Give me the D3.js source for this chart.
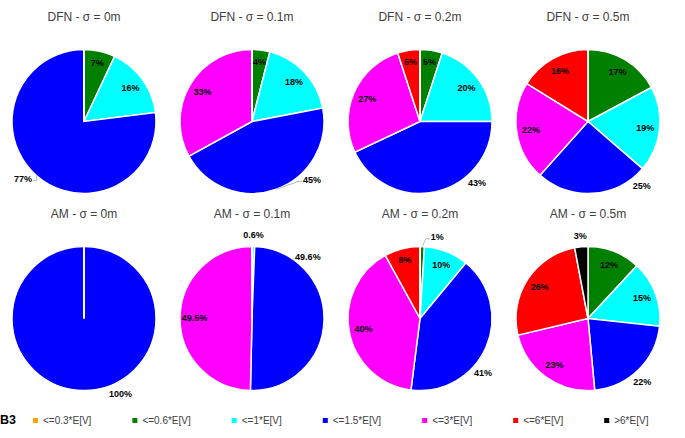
<!DOCTYPE html>
<html>
<head>
<meta charset="utf-8">
<script src="https://cdn.jsdelivr.net/npm/d3@7"></script>
<style>
  body { margin: 0; background: #fff; }
  text { font-family: "Liberation Sans", Arial, sans-serif; }
</style>
</head>
<body>
<div id="chart"></div>
<script>
const categories = ["<=0.3*E[V]", "<=0.6*E[V]", "<=1*E[V]", "<=1.5*E[V]", "<=3*E[V]", "<=6*E[V]", ">6*E[V]"];
const colors = ["#ffa500", "#008000", "#00ffff", "#0000ff", "#ff00ff", "#ff0000", "#000000"];
const methods = ["DFN", "AM"];
const sigmas = ["0m", "0.1m", "0.2m", "0.5m"];

// share of blocks per class (%), one row per sigma
const dfnShares = [
    [0, 7, 16, 77, 0, 0, 0],
    [0, 4, 18, 45, 33, 0, 0],
    [0, 5, 20, 43, 27, 5, 0],
    [0, 17, 19, 25, 22, 16, 0]
];
const amShares = [
    [0, 0, 0, 100, 0, 0, 0],
    [0, 0, 0.6, 49.6, 49.5, 0, 0],
    [0, 1, 10, 41, 40, 8, 0],
    [0, 12, 15, 22, 23, 26, 3]
];

// where Excel's "best fit" put the outside labels (degrees clockwise from 12 o'clock)
const outsideAngle = {
    "DFN 0m": { 3: 227 }, "DFN 0.1m": { 3: 134 }, "DFN 0.2m": { 3: 137 }, "DFN 0.5m": { 3: 140 },
    "AM 0m": { 3: 154 }, "AM 0.1m": { 3: 42 }, "AM 0.2m": { 1: 12, 3: 131 }, "AM 0.5m": { 3: 139.5 }
};
const withLeader = ["DFN 0m|3", "DFN 0.1m|3", "AM 0.2m|1"];

const width = 685, height = 438, radius = 72;

const svg = d3.select("#chart").append("svg").attr("width", width).attr("height", height);

const x = d3.scaleBand().domain(sigmas).range([0, 672]);
const y = d3.scalePoint().domain(methods).range([121.5, 318.5]);

const pie = d3.pie().sort(null).value(d => d.v);
const arc = d3.arc().innerRadius(0).outerRadius(radius);

const rows = { "DFN": dfnShares, "AM": amShares };

methods.forEach(m => {
    sigmas.forEach((s, si) => {
        const key = m + " " + s;
        const cx = x(s) + x.bandwidth() / 2, cy = y(m);
        const g = svg.append("g").attr("transform", `translate(${cx},${cy})`);
        const values = rows[m][si].map((v, i) => ({ v: v, i: i }));
        const arcs = pie(values);

        g.append("text").attr("x", 0).attr("y", -101).attr("text-anchor", "middle")
            .style("font-size", "12px").style("fill", "#404040")
            .text(m + " - σ = " + s);

        g.selectAll("path.slice").data(arcs).enter().append("path")
            .attr("class", "slice")
            .attr("d", arc)
            .style("fill", d => colors[d.data.i])
            .style("stroke", "#fff").style("stroke-width", 1.5);

        const over = outsideAngle[key] || {};
        arcs.filter(d => d.data.v > 0).forEach(d => {
            const mid = (d.startAngle + d.endAngle) / 2;
            const outside = d.data.i === 3 || d.data.v < 4;
            let ang = mid, dist;
            if (outside) {
                ang = over[d.data.i] !== undefined ? over[d.data.i] * Math.PI / 180 : mid;
                dist = radius * 1.16;
            } else {
                dist = radius * (d.data.v < 9 ? 0.84 : 0.8);
            }
            const lx = dist * Math.sin(ang), ly = -dist * Math.cos(ang);
            const t = g.append("text").attr("x", lx).attr("y", ly).attr("dy", "0.35em")
                .attr("text-anchor", "middle")
                .style("font-size", "9px").style("font-weight", "bold").style("fill", "#000")
                .text(d.data.v + "%");

            if (withLeader.includes(key + "|" + d.data.i)) {
                const half = t.node().getComputedTextLength() / 2;
                const ax = radius * Math.sin(mid), ay = -radius * Math.cos(mid);
                const side = ax < lx ? -1 : 1;
                const ex = lx + side * (half + 1), ey = ly + 2;
                g.append("polyline")
                    .attr("points", [[ax, ay], [ex + side * 4, ey], [ex, ey]].map(p => p.join(",")).join(" "))
                    .style("fill", "none").style("stroke", "#a6a6a6").style("stroke-width", 0.8);
            }
        });
    });
});

// legend
const legend = svg.append("g").attr("transform", "translate(0,424)");
legend.append("text").attr("x", 0).attr("y", 0)
    .style("font-size", "12.5px").style("font-weight", "bold").style("fill", "#000").text("B3");

let lx = 33;
categories.forEach((c, i) => {
    legend.append("rect").attr("x", lx).attr("y", -6).attr("width", 5).attr("height", 5)
        .style("fill", colors[i]);
    const t = legend.append("text").attr("x", lx + 10).attr("y", 0)
        .style("font-size", "10px").style("fill", "#404040").text(c);
    lx += 10 + t.node().getComputedTextLength() + 41;
});
</script>
</body>
</html>
